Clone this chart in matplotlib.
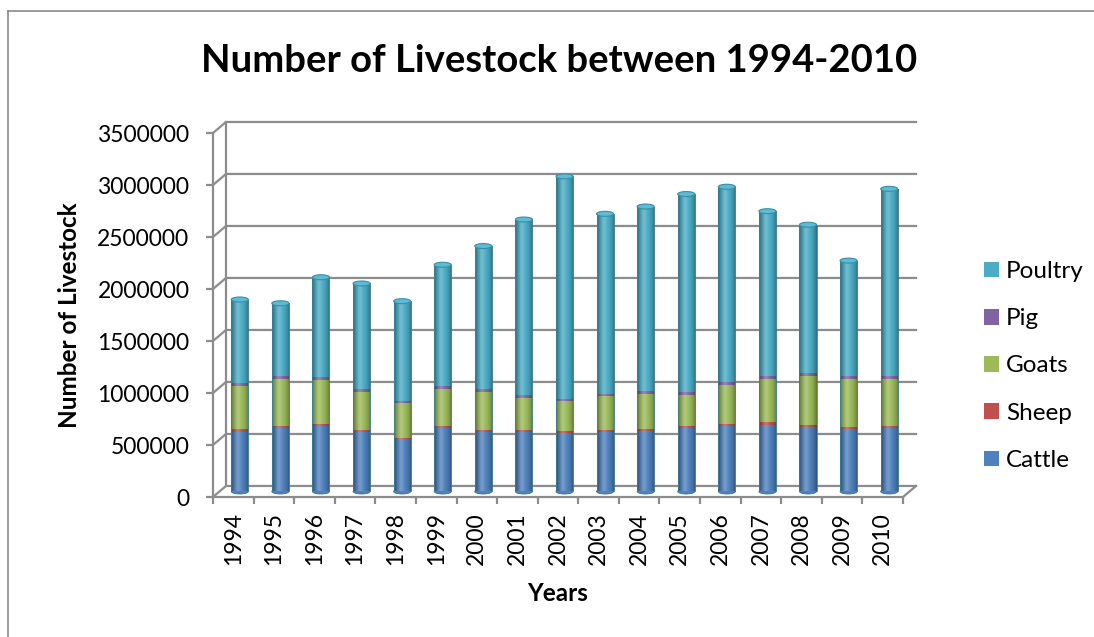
import numpy as np
import matplotlib
matplotlib.use("Agg")
import matplotlib.pyplot as plt
from matplotlib.patches import Rectangle, Ellipse, Patch
from matplotlib.lines import Line2D

plt.rcParams['font.family'] = ['Lato', 'DejaVu Sans']

years = [str(y) for y in range(1994, 2011)]
cattle = [575000, 613000, 630000, 573000, 500000, 612000, 575000, 568000, 559000,
          573000, 581000, 606000, 630000, 640000, 616000, 601000, 606000]
sheep = [22000, 21000, 23000, 20000, 19000, 22000, 21000, 20000, 19000,
         21000, 20000, 22000, 23000, 24000, 22000, 21000, 22000]
goats = [417000, 449000, 416000, 361000, 330000, 354000, 359000, 309000, 289000,
         320000, 338000, 303000, 369000, 415000, 472000, 461000, 456000]
pig = [28000, 30000, 29000, 27000, 25000, 28000, 27000, 26000, 25000,
       27000, 28000, 29000, 30000, 31000, 30000, 29000, 30000]
poultry = [804000, 697000, 962000, 1019000, 956000, 1164000, 1378000, 1692000, 2138000,
           1729000, 1773000, 1900000, 1878000, 1585000, 1425000, 1108000, 1796000]

series = [("Cattle", cattle, "#4F81BD"), ("Sheep", sheep, "#C0504D"),
          ("Goats", goats, "#9BBB59"), ("Pig", pig, "#8064A2"),
          ("Poultry", poultry, "#4BACC6")]
yticks = np.arange(0, 3500001, 500000)

W, H = 1094, 637
fig = plt.figure(figsize=(W / 100, H / 100), dpi=100)
ax = fig.add_axes([213 / W, 1 - 497 / H, 690 / W, 364 / H])

n = len(years)
x = np.arange(n)
grid_c = "#8c8c8c"
# depth of the 3-d box, in data units
ddx, ddy = 0.32, 106000
# columns stand halfway into the box
bx, by = ddx / 2, ddy / 2
bw = 0.42

# side wall / back wall gridlines
for v in yticks:
    ax.plot([-0.5, -0.5 + ddx, n - 0.5 + ddx], [v, v + ddy, v + ddy],
            color=grid_c, lw=1.6, clip_on=False, zorder=1)
ax.plot([-0.5 + ddx, -0.5 + ddx], [ddy, yticks[-1] + ddy], color=grid_c, lw=1.6,
        clip_on=False, zorder=1)
ax.plot([n - 0.5, n - 0.5 + ddx], [0, ddy], color=grid_c, lw=1.6, clip_on=False, zorder=1)

# cylinder shading: dark edges, light highlight left of centre
t = np.linspace(0, 1, 64)
shade = np.zeros((1, 64, 4))
dark = 0.38 * np.abs(2 * t - 1) ** 2.2
light = 0.22 * np.exp(-((t - 0.38) / 0.16) ** 2)
shade[0, :, :3] = (light / (light + dark + 1e-9))[:, None]
shade[0, :, 3] = light + dark

eh = 48000
totals = np.sum([s[1] for s in series], axis=0)
for i in range(n):
    xc = x[i] + bx
    # rounded base
    ax.add_patch(Ellipse((xc, by), bw, eh, facecolor=series[0][2],
                         edgecolor="#3d6a9e", lw=0.6, clip_on=False, zorder=2))
    bottom = by
    for name, vals, col in series:
        ax.bar(xc, vals[i], bw, bottom=bottom, color=col, edgecolor="none",
               clip_on=False, zorder=3)
        bottom += vals[i]
    rect = Rectangle((xc - bw / 2, by), bw, totals[i], transform=ax.transData)
    im = ax.imshow(shade, extent=(xc - bw / 2, xc + bw / 2, by, by + totals[i]),
                   aspect='auto', zorder=4, interpolation='bilinear')
    im.set_clip_path(rect)
    ax.plot([xc - bw / 2, xc - bw / 2], [by, by + totals[i]], color="#3a7f93", lw=0.6,
            clip_on=False, zorder=5)
    ax.plot([xc + bw / 2, xc + bw / 2], [by, by + totals[i]], color="#3a7f93", lw=0.6,
            clip_on=False, zorder=5)
    ax.add_patch(Ellipse((xc, by + totals[i]), bw, eh, facecolor="#5dbbd3",
                         edgecolor="#3a8ea5", lw=0.8, clip_on=False, zorder=6))

ax.set_xlim(-0.5, n - 0.5)
ax.set_ylim(0, 3500000)

for side in ["top", "right"]:
    ax.spines[side].set_visible(False)
for side in ["left", "bottom"]:
    ax.spines[side].set_color(grid_c)
    ax.spines[side].set_linewidth(1.6)
    ax.spines[side].set_zorder(1)

ax.set_yticks(yticks)
ax.set_yticklabels([str(v) for v in yticks])
ax.tick_params(axis='y', length=5, width=1.6, color=grid_c, pad=12, labelsize=16.5)
ax.set_xticks(x)
ax.set_xticklabels(years, rotation=90)
ax.set_xticks(np.arange(-0.5, n), minor=True)
ax.tick_params(axis='x', which='major', length=0, pad=11, labelsize=16.5)
ax.tick_params(axis='x', which='minor', length=5, width=1.6, color=grid_c)

ax.set_xlabel("Years", fontsize=17.5, fontweight='bold', labelpad=12)
ax.set_ylabel("Number of Livestock", fontsize=17.5, fontweight='bold', labelpad=12)
fig.text(559 / W, 1 - 61 / H, "Number of Livestock between 1994-2010",
         ha='center', va='center', fontsize=27.5, fontweight='bold')

handles = [Patch(facecolor=c, label=nm) for nm, v, c in series][::-1]
fig.legend(handles=handles, loc='center left', bbox_to_anchor=(974 / W, 1 - 366 / H),
           frameon=False, fontsize=17.5, handlelength=0.62, handleheight=0.62,
           handletextpad=0.3, labelspacing=1.08, borderaxespad=0)

# chart frame
fig.add_artist(Line2D([8 / W, 8 / W], [0, 1 - 11 / H], color="#8a8a8a", lw=1.2))
fig.add_artist(Line2D([8 / W, 1], [1 - 11 / H, 1 - 11 / H], color="#8a8a8a", lw=1.2))

fig.savefig("out.png", dpi=100)
